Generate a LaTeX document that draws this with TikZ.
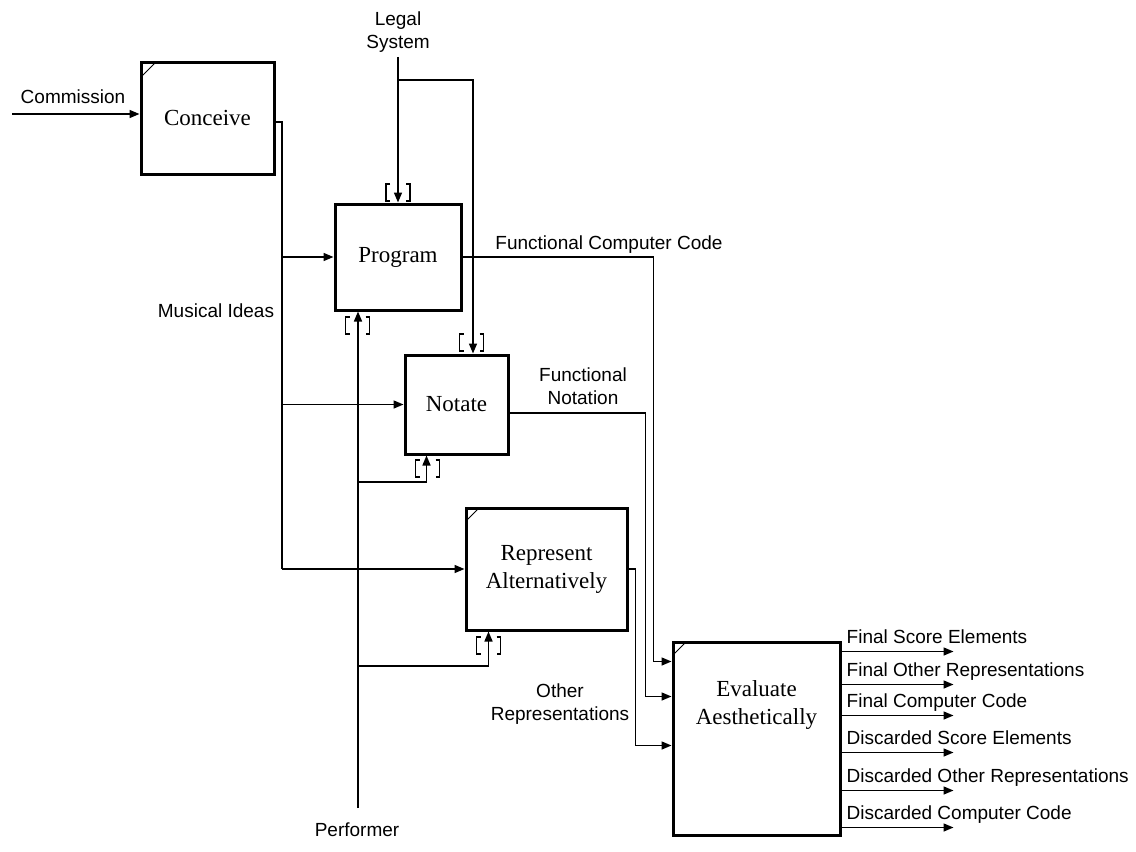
\documentclass[tikz,border=0pt]{standalone}
\usepackage{fontspec}
\setmainfont{Liberation Serif}
\setsansfont{Liberation Sans}
\usetikzlibrary{arrows.meta,calc}
\begin{document}
\begin{tikzpicture}[x=1pt,y=-1pt,
  boxfont/.style={font=\fontsize{23}{28}\selectfont\rmfamily},
  box/.style={draw, line width=3pt, boxfont, align=center, inner sep=0pt},
  lab/.style={font=\fontsize{19}{23.5}\selectfont\sffamily, align=center, inner sep=0pt},
  olab/.style={font=\fontsize{19}{23.5}\selectfont\sffamily, anchor=base west, inner sep=0pt},
  line/.style={line width=1.5pt},
  arr/.style={line width=1.5pt, -{Triangle[length=10pt,width=8pt]}},
  tick/.style={line width=1pt},
  brk/.pic={\draw[line width=1.3pt] (-8,-8.5) -- (-12,-8.5) -- (-12,8.5) -- (-8,8.5)
                                     (8,-8.5) -- (12,-8.5) -- (12,8.5) -- (8,8.5);}
]
\fill[white] (0,0) rectangle (1136,852);
\useasboundingbox (0,0) rectangle (1136,852);

% boxes
\node[box, minimum width=133pt, minimum height=112pt] (conceive) at (207.5,118) {Conceive};
\node[box, minimum width=126pt, minimum height=106pt] (program) at (398,257) {Program};
\node[box, minimum width=103pt, minimum height=99pt] (notate) at (456.5,404.5) {Notate};
\node[box, minimum width=161pt, minimum height=122pt] (represent) at (546.5,569) {Represent\\Alternatively};
\node[box, minimum width=167pt, minimum height=193pt] (evaluate) at (756.5,738.5) {};
\node[boxfont, align=center, inner sep=0pt] (evaltext) at (756.5,705) {Evaluate\\Aesthetically};

% corner ticks
\draw[tick] ($(conceive.north west)+(3,15)$) -- ($(conceive.north west)+(15,3)$);
\draw[tick] ($(represent.north west)+(3,13)$) -- ($(represent.north west)+(13,3)$);
\draw[tick] ($(evaluate.north west)+(3,13)$) -- ($(evaluate.north west)+(13,3)$);

% labels
\node[lab] (commission) at (73,97) {Commission};
\node[lab] (legal) at (398,32) {Legal\\System};
\node[lab] (ideas) at (216,311) {Musical Ideas};
\node[lab] (fcc) at (609,245) {Functional Computer Code};
\node[lab] (fnot) at (583,386) {Functional\\Notation};
\node[lab] (orep) at (560,704) {Other\\Representations};
\node[lab] (performer) at (357,830) {Performer};

% Commission
\coordinate (cin) at (12,114);
\draw[arr] (cin) -- (cin -| conceive.west);

% Musical ideas bus
\coordinate (mi) at (282,122);
\draw[line] (mi -| conceive.east) -- (mi) -- (mi |- represent.west);
\draw[arr] (mi |- represent.west) -- (represent.west);
\draw[arr] (mi |- program.west) -- (program.west);
\draw[arr] (mi |- notate.west) -- (notate.west);

% Legal system
\coordinate (lt) at ($(legal.south)+(0,4)$);
\coordinate (lb) at (473,80);
\draw[arr] (lt) -- (program.north);
\draw[arr] (lt |- lb) -- (lb) -- (lb |- notate.north);
\pic at ($(program.north)+(0,-10)$) {brk};
\pic at ($(notate.north west)+(68,-11)$) {brk};

% Performer
\coordinate (pf) at (358,808);
\coordinate (pn) at (358,482);
\coordinate (pr) at (358,666);
\draw[arr] (pf) -- (pf |- program.south);
\draw[arr] (pn) -| ($(notate.south west)+(23,0)$);
\draw[arr] (pr) -| ($(represent.south west)+(24,0)$);
\pic at ($(program.south west)+(24,14)$) {brk};
\pic at ($(notate.south west)+(24,13)$) {brk};
\pic at ($(represent.south west)+(24,14)$) {brk};

% inputs to evaluate
\coordinate (e1) at ($(evaluate.north west)+(0,21)$);
\coordinate (e2) at ($(evaluate.north west)+(0,56)$);
\coordinate (e3) at ($(evaluate.north west)+(0,105)$);
\draw[arr] (program.east) -| ($(e1)+(-18,0)$) -- (e1);
\draw[arr] ($(notate.east)+(0,8.5)$) -| ($(e2)+(-26,0)$) -- (e2);
\draw[arr] (represent.east) -| ($(e3)+(-36,0)$) -- (e3);

% outputs
\foreach \dy/\nm/\txt in {11/o1/Final Score Elements, 44/o2/Final Other Representations, 75/o3/Final Computer Code, 112/o4/Discarded Score Elements, 150/o5/Discarded Other Representations, 187/o6/Discarded Computer Code}{
  \coordinate (\nm) at ($(evaluate.north east)+(0,\dy)$);
  \draw[arr] (\nm) -- ++(112,0);
  \node[olab] (\nm lab) at ($(\nm)+(5,-8)$) {\txt};
}
\end{tikzpicture}
\end{document}
